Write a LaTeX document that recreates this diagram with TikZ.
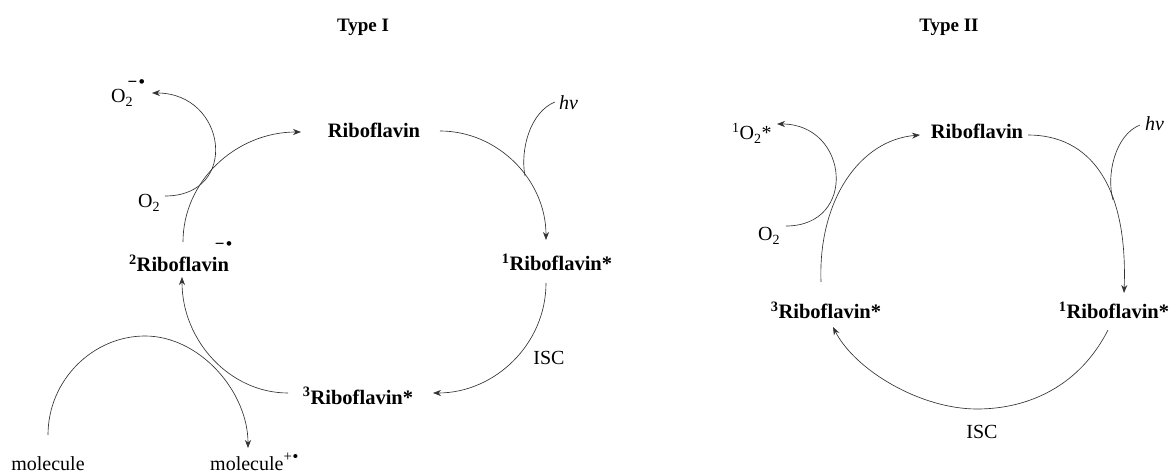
\documentclass[tikz,border=0pt]{standalone}
\usepackage{fontspec}
\setmainfont{Liberation Serif}
\usetikzlibrary{arrows.meta,calc}
\newcommand{\radsign}{−\hspace{1.5pt}•}
\begin{document}
\begin{tikzpicture}[x=1pt,y=-1pt,
  lbl/.style={font=\fontsize{20.5}{24}\selectfont\bfseries, inner sep=0pt, anchor=base},
  txt/.style={font=\fontsize{20}{24}\selectfont, inner sep=0pt},
  ttl/.style={font=\fontsize{19}{22}\selectfont\bfseries, inner sep=0pt, anchor=base},
  arr/.style={draw=black!80, line width=0.65pt, -{Stealth[length=8pt,width=6pt]}},
  ln/.style={draw=black!80, line width=0.65pt}]
\useasboundingbox[fill=white] (0,0) rectangle (1171,473);
% titles
\node[ttl] (t1) at (363,32) {Type I};
\node[ttl] (t2) at (949,32) {Type II};
% Type I nodes
\node[lbl] (ribL) at (374,138) {Riboflavin};
\node[lbl] (r1L) at (557,271) {\textsuperscript{1}Riboflavin*};
\node[lbl] (r3L) at (358,404) {\textsuperscript{3}Riboflavin*};
\node[lbl] (r2L) at (179,272) {\textsuperscript{2}Riboflavin\makebox[0pt][l]{\hspace{-14pt}\raisebox{22pt}{\fontsize{17}{17}\selectfont\radsign}}};
\node[txt, anchor=base west] (o2mL) at (111,103) {O\rlap{\textsubscript{2}}\hspace{2pt}\raisebox{15pt}{\fontsize{17}{17}\bfseries\selectfont\radsign}};
\node[txt, anchor=base west] (o2L) at (138,208) {O\textsubscript{2}};
\node[txt, anchor=base west] (hvL) at (559,110) {\itshape hν};
\node[txt] (iscL) at (549,358) {ISC};
\node[txt, anchor=base] (molL) at (48,470) {molecule};
\node[txt, anchor=base west] (molpL) at (210,470) {molecule\raisebox{9pt}{\fontsize{15}{15}\selectfont +\kern1pt\bfseries•}};
\coordinate (jL) at (525,176);
% Type II nodes
\node[lbl] (ribR) at (977,139) {Riboflavin};
\node[lbl] (r1R) at (1114,319) {\textsuperscript{1}Riboflavin*};
\node[lbl] (r3R) at (826,319) {\textsuperscript{3}Riboflavin*};
\node[txt, anchor=base west] (o2sR) at (732,140) {\textsuperscript{1}O\textsubscript{2}*};
\node[txt, anchor=base west] (o2R) at (758,241) {O\textsubscript{2}};
\node[txt, anchor=base west] (hvR) at (1145,131) {\itshape hν};
\node[txt] (iscR) at (982,432) {ISC};
\coordinate (jR) at (1113,200);
% Type I connectors
\draw[arr] ($(r2L.base)+(4,-30)$) .. controls (183,181) and (236,132) .. ($(ribL.base)+(-73,-6)$);
\draw[arr] ($(ribL.base)+(66,-7)$) .. controls (498,131) and (546,180) .. ($(r1L.base)+(-11,-31)$);
\draw[arr] ($(r1L.base)+(-11,12)$) .. controls (546,344) and (495,393) .. ($(r3L.base)+(75,-11)$);
\draw[arr] ($(r3L.base)+(-70,-11)$) .. controls (230,393) and (182,341) .. ($(r2L.base)+(3,5)$);
\draw[arr] ($(o2L.base west)+(27,-12)$) .. controls (240,196) and (227,93) .. ($(o2mL.base west)+(41,-10)$);
\draw[ln] ($(hvL.base west)+(-4,-8)$) .. controls (530,112) and (520,150) .. (jL);
\draw[arr] ($(molL.base)+(0,-35)$) .. controls (48,380) and (93,336) .. (145,336) .. controls (200,336) and (248,392) .. ($(molpL.base west)+(38,-22)$);
% Type II connectors
\draw[arr] ($(r3R.base)+(-5,-37)$) .. controls (818,200) and (860,140) .. ($(ribR.base)+(-57,-4)$);
\draw[arr] ($(o2R.base west)+(28,-15)$) .. controls (858,226) and (849,124) .. ($(o2sR.base west)+(45,-16)$);
\draw[arr] ($(ribR.base)+(51,-4)$) .. controls (1090,135) and (1128,185) .. ($(r1R.base)+(10,-26)$);
\draw[ln] ($(hvR.base west)+(-5,-6)$) .. controls (1115,135) and (1106,175) .. (jR);
\draw[arr] ($(r1R.base)+(-6,11)$) .. controls (1080,385) and (1030,409) .. (977,409) .. controls (920,409) and (855,370) .. ($(r3R.base)+(7,8)$);
\end{tikzpicture}
\end{document}
